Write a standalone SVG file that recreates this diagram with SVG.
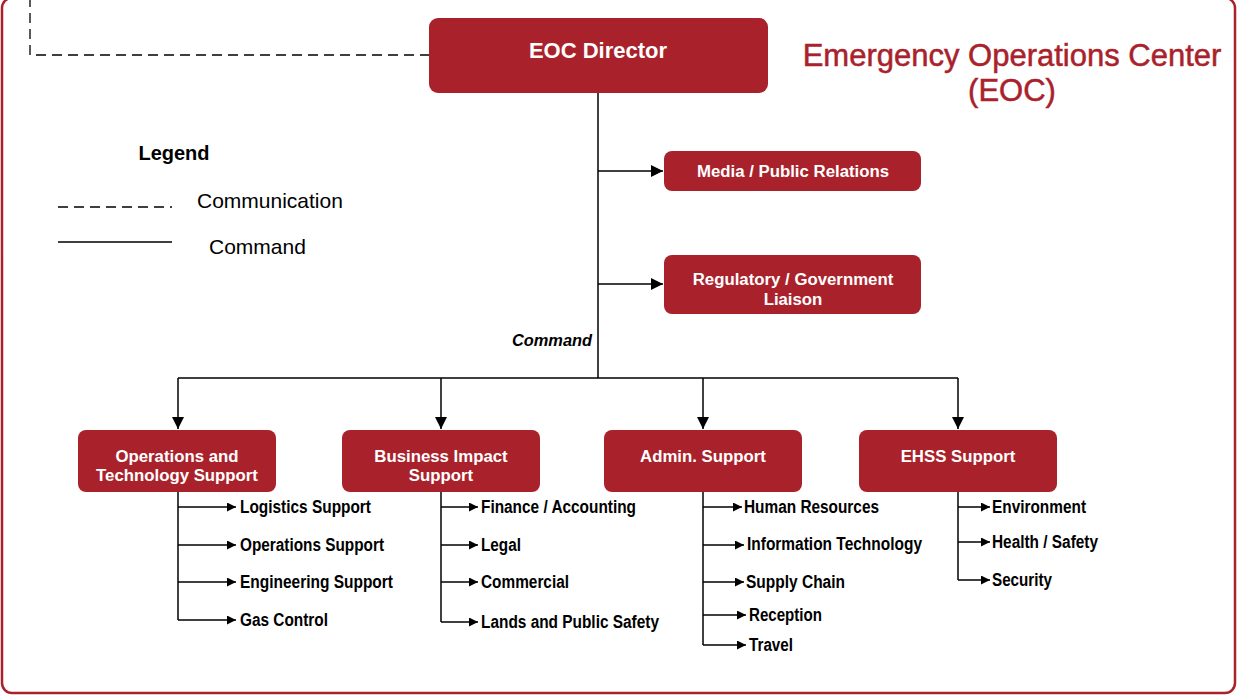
<svg xmlns="http://www.w3.org/2000/svg" width="1241" height="698" viewBox="0 0 1241 698">
<style>
.box{fill:#a9222b;}
.bt{fill:#fff;font-family:"Liberation Sans",Arial,sans-serif;font-weight:bold;font-size:16.8px;text-anchor:middle;}
.ln{stroke:#000;stroke-width:1.5;fill:none;}
.sub{font-family:"Liberation Sans Narrow","Liberation Sans",Arial,sans-serif;font-weight:bold;font-size:18px;fill:#000;}
.leg{font-family:"Liberation Sans",Arial,sans-serif;font-size:21px;fill:#000;}
</style>
<defs>
<marker id="big" viewBox="0 0 10 10" refX="10" refY="5" markerWidth="12" markerHeight="12" markerUnits="userSpaceOnUse" orient="auto"><path d="M0,0 L10,5 L0,10 z" fill="#000"/></marker>
<marker id="big2" viewBox="0 0 10 10" refX="10" refY="5" markerWidth="14" markerHeight="12" markerUnits="userSpaceOnUse" orient="auto"><path d="M0,0 L10,5 L0,10 z" fill="#000"/></marker>
<marker id="sm" viewBox="0 0 10 10" refX="10" refY="5" markerWidth="10" markerHeight="9" markerUnits="userSpaceOnUse" orient="auto"><path d="M0,0 L10,5 L0,10 z" fill="#000"/></marker>
</defs>
<rect x="2" y="-2" width="1233" height="695" rx="10" fill="#fff" stroke="#a9222b" stroke-width="2.5"/>

<g id="legend">
<text x="174" y="160" text-anchor="middle" font-family="Liberation Sans,Arial,sans-serif" font-weight="bold" font-size="20">Legend</text>
<line x1="58" y1="207" x2="172" y2="207" stroke="#000" stroke-width="1.3" stroke-dasharray="10,6"/>
<text class="leg" x="197" y="208">Communication</text>
<line x1="58" y1="242" x2="172" y2="242" stroke="#000" stroke-width="1.3"/>
<text class="leg" x="209" y="254">Command</text>
</g>

<g id="title">
<text x="1012" y="66" text-anchor="middle" font-family="Liberation Sans,Arial,sans-serif" font-size="31" fill="#a9222b" stroke="#a9222b" stroke-width="0.5">Emergency Operations Center</text>
<text x="1012" y="101" text-anchor="middle" font-family="Liberation Sans,Arial,sans-serif" font-size="31" fill="#a9222b" stroke="#a9222b" stroke-width="0.5">(EOC)</text>
</g>

<g id="connectors">
<path d="M430,55 L30,55 L30,0" stroke="#000" stroke-width="1.3" fill="none" stroke-dasharray="10,6"/>
<path class="ln" d="M598,93 L598,378"/>
<path class="ln" d="M598,171 L663,171" marker-end="url(#big2)"/>
<path class="ln" d="M598,284 L663,284" marker-end="url(#big2)"/>
<path class="ln" d="M178,378 L958,378"/>
<path class="ln" d="M178,378 L178,429" marker-end="url(#big)"/>
<path class="ln" d="M441,378 L441,429" marker-end="url(#big)"/>
<path class="ln" d="M703,378 L703,429" marker-end="url(#big)"/>
<path class="ln" d="M958,378 L958,429" marker-end="url(#big)"/>
<text x="552" y="346" text-anchor="middle" font-family="Liberation Sans,Arial,sans-serif" font-weight="bold" font-style="italic" font-size="16.4">Command</text>

<path class="ln" d="M178,492 L178,620"/>
<path class="ln" d="M178,507 L236,507" marker-end="url(#sm)"/>
<path class="ln" d="M178,545 L236,545" marker-end="url(#sm)"/>
<path class="ln" d="M178,582 L236,582" marker-end="url(#sm)"/>
<path class="ln" d="M178,620 L236,620" marker-end="url(#sm)"/>

<path class="ln" d="M441,492 L441,622"/>
<path class="ln" d="M441,507 L478,507" marker-end="url(#sm)"/>
<path class="ln" d="M441,545 L478,545" marker-end="url(#sm)"/>
<path class="ln" d="M441,582 L478,582" marker-end="url(#sm)"/>
<path class="ln" d="M441,622 L478,622" marker-end="url(#sm)"/>

<path class="ln" d="M703,492 L703,645"/>
<path class="ln" d="M703,507 L742,507" marker-end="url(#sm)"/>
<path class="ln" d="M703,545 L744,545" marker-end="url(#sm)"/>
<path class="ln" d="M703,582 L744,582" marker-end="url(#sm)"/>
<path class="ln" d="M703,615 L746,615" marker-end="url(#sm)"/>
<path class="ln" d="M703,645 L746,645" marker-end="url(#sm)"/>

<path class="ln" d="M958,492 L958,580"/>
<path class="ln" d="M958,507 L990,507" marker-end="url(#sm)"/>
<path class="ln" d="M958,542 L990,542" marker-end="url(#sm)"/>
<path class="ln" d="M958,580 L990,580" marker-end="url(#sm)"/>
</g>

<g id="eoc-director"><rect class="box" x="429" y="18" width="339" height="75" rx="9"/><text class="bt" x="598" y="58" style="font-size:22px">EOC Director</text></g>
<g id="media"><rect class="box" x="664" y="151" width="257" height="40" rx="8"/><text class="bt" x="793" y="177">Media / Public Relations</text></g>
<g id="regulatory"><rect class="box" x="664" y="255" width="257" height="59" rx="8"/><text class="bt" x="793" y="285">Regulatory / Government</text><text class="bt" x="793" y="305">Liaison</text></g>

<g id="ops"><rect class="box" x="78" y="430" width="198" height="62" rx="8"/><text class="bt" x="177" y="462">Operations and</text><text class="bt" x="177" y="481">Technology Support</text></g>
<g id="business"><rect class="box" x="342" y="430" width="198" height="62" rx="8"/><text class="bt" x="441" y="462">Business Impact</text><text class="bt" x="441" y="481">Support</text></g>
<g id="admin"><rect class="box" x="604" y="430" width="198" height="62" rx="8"/><text class="bt" x="703" y="462">Admin. Support</text></g>
<g id="ehss"><rect class="box" x="859" y="430" width="198" height="62" rx="8"/><text class="bt" x="958" y="462">EHSS Support</text></g>

<g id="ops-items">
<text class="sub" x="240" y="513" textLength="131" lengthAdjust="spacingAndGlyphs">Logistics Support</text>
<text class="sub" x="240" y="551" textLength="144" lengthAdjust="spacingAndGlyphs">Operations Support</text>
<text class="sub" x="240" y="588" textLength="153" lengthAdjust="spacingAndGlyphs">Engineering Support</text>
<text class="sub" x="240" y="626" textLength="88" lengthAdjust="spacingAndGlyphs">Gas Control</text>
</g>
<g id="business-items">
<text class="sub" x="481" y="513" textLength="155" lengthAdjust="spacingAndGlyphs">Finance / Accounting</text>
<text class="sub" x="481" y="551" textLength="40" lengthAdjust="spacingAndGlyphs">Legal</text>
<text class="sub" x="481" y="588" textLength="88" lengthAdjust="spacingAndGlyphs">Commercial</text>
<text class="sub" x="481" y="628" textLength="178" lengthAdjust="spacingAndGlyphs">Lands and Public Safety</text>
</g>
<g id="admin-items">
<text class="sub" x="744" y="513" textLength="135" lengthAdjust="spacingAndGlyphs">Human Resources</text>
<text class="sub" x="747" y="550" textLength="175" lengthAdjust="spacingAndGlyphs">Information Technology</text>
<text class="sub" x="746" y="588" textLength="99" lengthAdjust="spacingAndGlyphs">Supply Chain</text>
<text class="sub" x="749" y="621" textLength="73" lengthAdjust="spacingAndGlyphs">Reception</text>
<text class="sub" x="749" y="651" textLength="44" lengthAdjust="spacingAndGlyphs">Travel</text>
</g>
<g id="ehss-items">
<text class="sub" x="992" y="513" textLength="94" lengthAdjust="spacingAndGlyphs">Environment</text>
<text class="sub" x="992" y="548" textLength="106" lengthAdjust="spacingAndGlyphs">Health / Safety</text>
<text class="sub" x="992" y="586" textLength="60" lengthAdjust="spacingAndGlyphs">Security</text>
</g>
</svg>
